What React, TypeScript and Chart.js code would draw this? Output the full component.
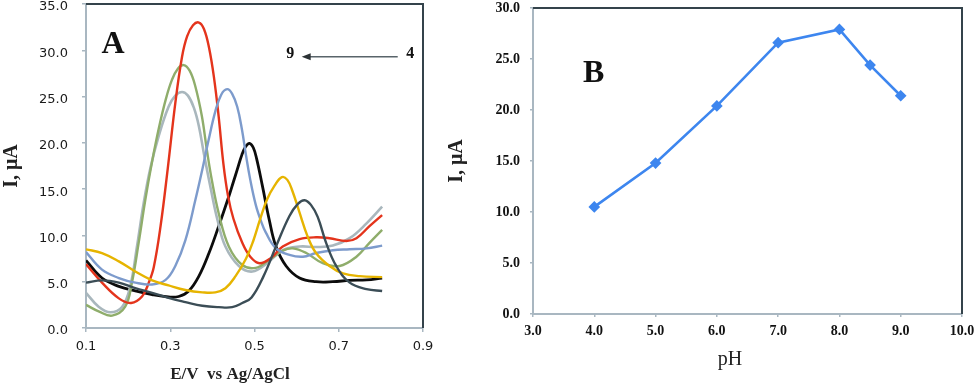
import React, { useEffect, useRef } from "react";
import { Chart, registerables } from "chart.js";

Chart.register(...registerables);

// ---------- Panel A : voltammograms (E / V vs Ag/AgCl, I / µA) ----------
const E_PH4 = [0.100, 0.138, 0.178, 0.217, 0.257, 0.296, 0.336, 0.376, 0.415, 0.447, 0.471, 0.493, 0.521, 0.551, 0.583, 0.603, 0.619, 0.634, 0.650, 0.670, 0.694, 0.726, 0.766, 0.803];
const I_PH4 = [4.9, 5.15, 4.9, 4.3, 3.8, 3.25, 2.8, 2.4, 2.25, 2.25, 2.7, 3.3, 5.55, 8.8, 12.1, 13.4, 13.8, 13.3, 12.0, 9.2, 6.7, 4.9, 4.2, 4.0];

const E_PH5 = [0.100, 0.138, 0.178, 0.217, 0.257, 0.296, 0.336, 0.376, 0.407, 0.431, 0.455, 0.480, 0.497, 0.513, 0.530, 0.548, 0.565, 0.578, 0.590, 0.606, 0.626, 0.646, 0.678, 0.710, 0.750, 0.803];
const I_PH5 = [8.5, 8.1, 7.2, 6.1, 5.15, 4.6, 4.1, 3.85, 3.85, 4.3, 5.6, 7.5, 9.4, 11.7, 13.9, 15.4, 16.3, 16.0, 14.8, 12.6, 9.9, 8.1, 6.7, 5.9, 5.6, 5.5];

const E_PH6 = [0.100, 0.138, 0.178, 0.217, 0.257, 0.296, 0.320, 0.344, 0.368, 0.392, 0.415, 0.439, 0.450, 0.459, 0.470, 0.479, 0.488, 0.497, 0.505, 0.519, 0.535, 0.551, 0.575, 0.607, 0.646, 0.686, 0.726, 0.766, 0.803];
const I_PH6 = [7.3, 5.4, 4.5, 4.0, 3.6, 3.35, 3.4, 4.0, 5.6, 8.1, 11.0, 14.2, 15.8, 17.1, 18.7, 19.6, 19.95, 19.5, 18.3, 15.3, 11.7, 8.8, 6.7, 5.4, 5.0, 5.0, 5.15, 5.2, 5.4];

const E_PH7 = [0.100, 0.138, 0.178, 0.217, 0.257, 0.289, 0.312, 0.336, 0.360, 0.376, 0.391, 0.407, 0.421, 0.435, 0.447, 0.459, 0.470, 0.480, 0.490, 0.503, 0.515, 0.527, 0.551, 0.583, 0.615, 0.646, 0.686, 0.726, 0.766, 0.803];
const I_PH7 = [8.2, 6.3, 5.4, 4.9, 4.7, 5.2, 6.7, 9.5, 13.9, 17.1, 20.3, 23.4, 25.2, 25.8, 25.3, 23.9, 21.5, 18.6, 16.0, 13.3, 11.6, 10.3, 8.6, 7.9, 7.7, 8.1, 8.4, 8.5, 8.6, 8.9];

const E_PH8 = [0.100, 0.138, 0.178, 0.207, 0.233, 0.249, 0.261, 0.277, 0.294, 0.312, 0.328, 0.340, 0.354, 0.368, 0.380, 0.392, 0.404, 0.415, 0.426, 0.437, 0.450, 0.471, 0.490, 0.512, 0.540, 0.567, 0.607, 0.646, 0.678, 0.718, 0.742, 0.773, 0.803];
const I_PH8 = [6.9, 4.9, 3.2, 2.7, 3.4, 4.9, 6.6, 11.0, 17.2, 24.3, 29.3, 31.5, 32.7, 33.0, 32.3, 30.3, 27.0, 22.8, 17.8, 14.3, 11.8, 9.2, 7.7, 7.0, 7.6, 8.8, 9.6, 9.8, 9.7, 9.4, 9.7, 11.0, 12.2];

const E_PH85 = [0.100, 0.130, 0.162, 0.193, 0.209, 0.225, 0.241, 0.257, 0.273, 0.290, 0.304, 0.318, 0.332, 0.346, 0.359, 0.375, 0.387, 0.399, 0.415, 0.439, 0.471, 0.503, 0.536, 0.567, 0.591, 0.623, 0.662, 0.702, 0.742, 0.773, 0.803];
const I_PH85 = [2.5, 1.8, 1.33, 2.3, 4.9, 9.2, 13.9, 18.0, 21.6, 24.8, 26.8, 28.0, 28.4, 27.8, 26.2, 22.9, 19.2, 15.9, 12.4, 8.8, 6.8, 6.5, 7.4, 8.35, 8.6, 8.1, 7.0, 6.7, 7.7, 9.2, 10.6];

const E_PH9 = [0.100, 0.130, 0.158, 0.186, 0.205, 0.221, 0.237, 0.253, 0.273, 0.296, 0.312, 0.328, 0.342, 0.356, 0.368, 0.380, 0.396, 0.412, 0.431, 0.463, 0.495, 0.530, 0.567, 0.607, 0.646, 0.686, 0.726, 0.766, 0.803];
const I_PH9 = [3.8, 2.3, 1.7, 2.3, 4.5, 8.8, 13.5, 17.3, 20.8, 23.9, 25.1, 25.5, 25.1, 23.8, 21.8, 18.8, 15.1, 11.7, 8.8, 6.7, 6.1, 7.0, 8.4, 8.8, 8.75, 8.9, 9.7, 11.3, 13.1];

const A_X_MIN = 0.1, A_X_MAX = 0.9, A_X_STEP = 0.2;
const A_Y_MIN = 0, A_Y_MAX = 35, A_Y_STEP = 5;

// annotation in panel A (data units)
const A_LETTER = { text: "A", e: 0.164, i: 30.6 };
const ARROW_FROM_E = 0.84, ARROW_TO_E = 0.612, ARROW_I = 29.3;
const ARROW_LABEL_START = { text: "4", e: 0.87, i: 29.6 };
const ARROW_LABEL_END = { text: "9", e: 0.585, i: 29.6 };

// ---------- Panel B : peak current vs pH ----------
const PH_VALUES = [4.0, 5.0, 6.0, 7.0, 8.0, 8.5, 9.0];
const PEAK_CURRENT = [10.5, 14.8, 20.4, 26.6, 27.9, 24.4, 21.4];
const B_X_MIN = 3, B_X_MAX = 10, B_X_STEP = 1;
const B_Y_MIN = 0, B_Y_MAX = 30, B_Y_STEP = 5;
const B_LETTER = { text: "B", ph: 3.99, i: 23.6 };

// ---------- styles ----------
const SANS = '"DejaVu Sans", Verdana, sans-serif';
const SERIF = '"Liberation Serif", "Times New Roman", serif';
const AXIS_COLOR = "#a9b7c1";
const FRAME_COLOR = "#34434b";

const SERIES_A = [
  { label: "pH 4", e: E_PH4, i: I_PH4, color: "#3b4d56", width: 2.4 },
  { label: "pH 5", e: E_PH5, i: I_PH5, color: "#e6b400", width: 2.4 },
  { label: "pH 7", e: E_PH7, i: I_PH7, color: "#7d9bcc", width: 2.4 },
  { label: "pH 8", e: E_PH8, i: I_PH8, color: "#e4341c", width: 2.4 },
  { label: "pH 8.5", e: E_PH85, i: I_PH85, color: "#8fad6b", width: 2.4 },
  { label: "pH 9", e: E_PH9, i: I_PH9, color: "#a9b7bd", width: 2.6 },
  { label: "pH 6", e: E_PH6, i: I_PH6, color: "#0c0c0c", width: 2.8 },
];

const fmt1 = (v: number | string) => Number(v).toFixed(1);

function frame(chart: any) {
  const { ctx, chartArea: a } = chart;
  ctx.save();
  ctx.strokeStyle = FRAME_COLOR;
  ctx.lineWidth = 2;
  ctx.beginPath();
  ctx.moveTo(a.left, a.top);
  ctx.lineTo(a.right, a.top);
  ctx.lineTo(a.right, a.bottom);
  ctx.stroke();
  ctx.restore();
}

const fitY = (w: number) => (s: any) => {
  s.width = w;
  s.paddingTop = 0;
  s.paddingBottom = 0;
};
const fitX = (h: number) => (s: any) => {
  s.height = h;
  s.paddingLeft = 0;
  s.paddingRight = 0;
};

const panelAPlugin = {
  id: "panelAExtras",
  afterDraw(chart: any) {
    const { ctx, chartArea: a, scales } = chart;
    const x = scales.x, y = scales.y;
    frame(chart);
    ctx.save();
    ctx.fillStyle = "#111";
    ctx.textAlign = "center";
    ctx.textBaseline = "middle";
    ctx.font = `bold 32px ${SERIF}`;
    ctx.fillText(A_LETTER.text, x.getPixelForValue(A_LETTER.e), y.getPixelForValue(A_LETTER.i));
    ctx.font = `bold 16px ${SERIF}`;
    ctx.fillText(ARROW_LABEL_START.text, x.getPixelForValue(ARROW_LABEL_START.e), y.getPixelForValue(ARROW_LABEL_START.i));
    ctx.fillText(ARROW_LABEL_END.text, x.getPixelForValue(ARROW_LABEL_END.e), y.getPixelForValue(ARROW_LABEL_END.i));
    const x1 = x.getPixelForValue(ARROW_FROM_E);
    const x2 = x.getPixelForValue(ARROW_TO_E);
    const yy = y.getPixelForValue(ARROW_I);
    ctx.strokeStyle = "#59646a";
    ctx.fillStyle = "#2c3235";
    ctx.lineWidth = 1.6;
    ctx.beginPath();
    ctx.moveTo(x1, yy);
    ctx.lineTo(x2 + 6, yy);
    ctx.stroke();
    ctx.beginPath();
    ctx.moveTo(x2, yy);
    ctx.lineTo(x2 + 9, yy - 3.5);
    ctx.lineTo(x2 + 9, yy + 3.5);
    ctx.closePath();
    ctx.fill();
    // x-axis title
    ctx.fillStyle = "#222";
    ctx.font = `bold 17px ${SERIF}`;
    ctx.fillText("E/V  vs Ag/AgCl", a.left + 144, a.bottom + 47);
    ctx.restore();
  },
};

const panelBPlugin = {
  id: "panelBExtras",
  afterDraw(chart: any) {
    const { ctx, chartArea: a, scales } = chart;
    frame(chart);
    ctx.save();
    ctx.fillStyle = "#111";
    ctx.textAlign = "center";
    ctx.textBaseline = "middle";
    ctx.font = `bold 32px ${SERIF}`;
    ctx.fillText(B_LETTER.text, scales.x.getPixelForValue(B_LETTER.ph), scales.y.getPixelForValue(B_LETTER.i));
    ctx.font = `20px ${SERIF}`;
    ctx.fillStyle = "#222";
    ctx.fillText("pH", a.left + 197, a.bottom + 46);
    ctx.restore();
  },
};

function PanelA() {
  const ref = useRef<HTMLCanvasElement | null>(null);
  useEffect(() => {
    if (!ref.current) return;
    const chart = new Chart(ref.current, {
      type: "line",
      data: {
        datasets: SERIES_A.map((s) => ({
          label: s.label,
          data: s.e.map((e, k) => ({ x: e, y: s.i[k] })),
          borderColor: s.color,
          backgroundColor: s.color,
          borderWidth: s.width,
          pointRadius: 0,
          tension: 0.4,
          fill: false,
        })),
      },
      options: {
        animation: false,
        responsive: false,
        maintainAspectRatio: false,
        layout: { padding: { top: 4, right: 22, left: 0, bottom: 0 } },
        plugins: { legend: { display: false }, tooltip: { enabled: false } },
        scales: {
          x: {
            type: "linear",
            min: A_X_MIN,
            max: A_X_MAX,
            ticks: {
              stepSize: A_X_STEP,
              callback: (v: any) => fmt1(v),
              font: { family: SANS, size: 13 },
              color: "#1a1a1a",
              padding: 7,
              maxRotation: 0,
              autoSkip: false,
            },
            grid: { drawOnChartArea: false, tickLength: 4, color: AXIS_COLOR, lineWidth: 1.5 },
            border: { color: AXIS_COLOR, width: 2 },
            afterFit: fitX(60),
          },
          y: {
            type: "linear",
            min: A_Y_MIN,
            max: A_Y_MAX,
            ticks: {
              stepSize: A_Y_STEP,
              callback: (v: any) => fmt1(v),
              font: { family: SANS, size: 13 },
              color: "#1a1a1a",
              padding: 14,
              labelOffset: 3,
            },
            grid: { drawOnChartArea: false, tickLength: 4, color: AXIS_COLOR, lineWidth: 1.5 },
            border: { color: AXIS_COLOR, width: 2 },
            title: {
              display: true,
              text: "I, μA",
              font: { family: SERIF, size: 20, weight: "bold" },
              color: "#222",
              padding: 0,
            },
            afterFit: fitY(86),
          },
        },
      },
      plugins: [panelAPlugin],
    });
    return () => chart.destroy();
  }, []);
  return <canvas ref={ref} width={445} height={388} style={{ position: "absolute", left: 0, top: 0 }} />;
}

function PanelB() {
  const ref = useRef<HTMLCanvasElement | null>(null);
  useEffect(() => {
    if (!ref.current) return;
    const chart = new Chart(ref.current, {
      type: "line",
      data: {
        datasets: [
          {
            label: "Peak current",
            data: PH_VALUES.map((p, k) => ({ x: p, y: PEAK_CURRENT[k] })),
            borderColor: "#3d86ef",
            backgroundColor: "#3d86ef",
            borderWidth: 2.6,
            pointStyle: "rectRot",
            pointRadius: 4,
            tension: 0,
            fill: false,
          },
        ],
      },
      options: {
        animation: false,
        responsive: false,
        maintainAspectRatio: false,
        layout: { padding: { top: 8, right: 18, left: 0, bottom: 0 } },
        plugins: { legend: { display: false }, tooltip: { enabled: false } },
        scales: {
          x: {
            type: "linear",
            min: B_X_MIN,
            max: B_X_MAX,
            ticks: {
              stepSize: B_X_STEP,
              callback: (v: any) => fmt1(v),
              font: { family: SERIF, size: 14, weight: "bold" },
              color: "#111",
              padding: 6,
              maxRotation: 0,
              autoSkip: false,
            },
            grid: { drawOnChartArea: false, tickLength: 3, color: AXIS_COLOR, lineWidth: 1.5 },
            border: { color: AXIS_COLOR, width: 2 },
            afterFit: fitX(74),
          },
          y: {
            type: "linear",
            min: B_Y_MIN,
            max: B_Y_MAX,
            ticks: {
              stepSize: B_Y_STEP,
              callback: (v: any) => fmt1(v),
              font: { family: SERIF, size: 14, weight: "bold" },
              color: "#111",
              padding: 10,
            },
            grid: { drawOnChartArea: false, tickLength: 3, color: AXIS_COLOR, lineWidth: 1.5 },
            border: { color: AXIS_COLOR, width: 2 },
            title: {
              display: true,
              text: "I, μA",
              font: { family: SERIF, size: 20, weight: "bold" },
              color: "#222",
              padding: 0,
            },
            afterFit: fitY(88),
          },
        },
      },
      plugins: [panelBPlugin],
    });
    return () => chart.destroy();
  }, []);
  return <canvas ref={ref} width={535} height={388} style={{ position: "absolute", left: 445, top: 0 }} />;
}

export default function App() {
  return (
    <div style={{ position: "absolute", left: 0, top: 0, width: 980, height: 388, background: "#fff", overflow: "hidden" }}>
      <PanelA />
      <PanelB />
    </div>
  );
}
